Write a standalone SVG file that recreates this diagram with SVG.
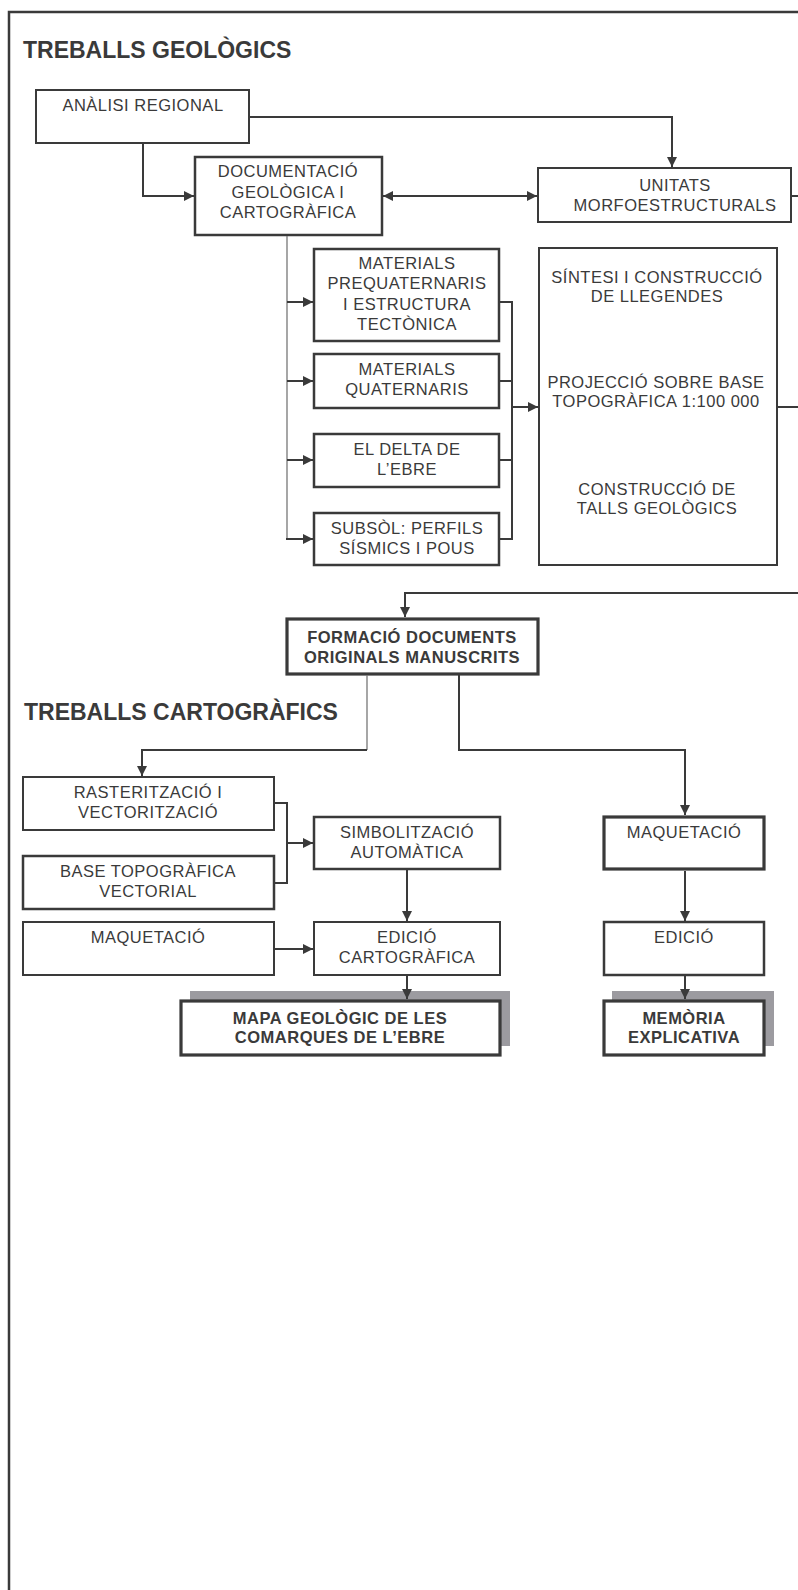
<svg xmlns="http://www.w3.org/2000/svg" width="798" height="1590" viewBox="0 0 798 1590">
<defs>
<marker id="ah" viewBox="0 0 10 10" refX="10" refY="5" markerWidth="11" markerHeight="10" markerUnits="userSpaceOnUse" orient="auto-start-reverse">
<path d="M0,0 L10,5 L0,10 z" fill="#3a3a3a"/>
</marker>
<style>
.box{fill:#fff;stroke:#3a3a3a;stroke-width:2}
.b25{stroke-width:2.5}
.b3{stroke-width:3.2}
.t{font-family:"Liberation Sans",Arial,sans-serif;font-size:16.5px;letter-spacing:0.5px;fill:#3a3a3a;text-anchor:middle}
.tb{font-weight:bold}
.h{font-family:"Liberation Sans",Arial,sans-serif;font-size:23px;font-weight:bold;fill:#3a3a3a}
.c{fill:none;stroke:#3a3a3a;stroke-width:2}
.cg{fill:none;stroke:#777;stroke-width:1.3}
.sh{fill:#9c9ba0}
</style>
</defs>
<rect width="798" height="1590" fill="#fff"/>
<path d="M9,1590 V12 H798" fill="none" stroke="#3a3a3a" stroke-width="2.5"/>
<text class="h" x="23" y="58">TREBALLS GEOLÒGICS</text>
<text class="h" x="24" y="720">TREBALLS CARTOGRÀFICS</text>

<g id="analisi"><rect class="box" x="36" y="90" width="213" height="53"/>
<text class="t" x="143" y="111">ANÀLISI REGIONAL</text></g>

<g id="documentacio"><rect class="box b25" x="195" y="157" width="187" height="78"/>
<text class="t" x="288" y="177">DOCUMENTACIÓ</text>
<text class="t" x="288" y="198">GEOLÒGICA I</text>
<text class="t" x="288" y="218">CARTOGRÀFICA</text></g>

<g id="unitats"><rect class="box" x="538" y="168" width="253" height="54"/>
<text class="t" x="675" y="191">UNITATS</text>
<text class="t" x="675" y="211">MORFOESTRUCTURALS</text></g>

<g id="prequaternaris"><rect class="box b25" x="314" y="249" width="185" height="92"/>
<text class="t" x="407" y="269">MATERIALS</text>
<text class="t" x="407" y="289">PREQUATERNARIS</text>
<text class="t" x="407" y="310">I ESTRUCTURA</text>
<text class="t" x="407" y="330">TECTÒNICA</text></g>

<g id="quaternaris"><rect class="box b25" x="314" y="354" width="185" height="54"/>
<text class="t" x="407" y="375">MATERIALS</text>
<text class="t" x="407" y="395">QUATERNARIS</text></g>

<g id="delta"><rect class="box b25" x="314" y="434" width="185" height="53"/>
<text class="t" x="407" y="455">EL DELTA DE</text>
<text class="t" x="407" y="475">L’EBRE</text></g>

<g id="subsol"><rect class="box b25" x="314" y="513" width="185" height="52"/>
<text class="t" x="407" y="534">SUBSÒL: PERFILS</text>
<text class="t" x="407" y="554">SÍSMICS I POUS</text></g>

<g id="sintesi"><rect class="box" x="539" y="248" width="238" height="317"/>
<text class="t" x="657" y="283">SÍNTESI I CONSTRUCCIÓ</text>
<text class="t" x="657" y="302">DE LLEGENDES</text>
<text class="t" x="656" y="388">PROJECCIÓ SOBRE BASE</text>
<text class="t" x="656" y="407">TOPOGRÀFICA 1:100 000</text>
<text class="t" x="657" y="495">CONSTRUCCIÓ DE</text>
<text class="t" x="657" y="514">TALLS GEOLÒGICS</text></g>

<g id="formacio"><rect class="box b3" x="287" y="619" width="251" height="55"/>
<text class="t tb" x="412" y="643">FORMACIÓ DOCUMENTS</text>
<text class="t tb" x="412" y="663">ORIGINALS MANUSCRITS</text></g>

<g id="rasteritzacio"><rect class="box" x="23" y="777" width="251" height="53"/>
<text class="t" x="148" y="798">RASTERITZACIÓ I</text>
<text class="t" x="148" y="818">VECTORITZACIÓ</text></g>

<g id="basetopo"><rect class="box b25" x="23" y="856" width="251" height="53"/>
<text class="t" x="148" y="877">BASE TOPOGRÀFICA</text>
<text class="t" x="148" y="897">VECTORIAL</text></g>

<g id="maquetacio1"><rect class="box" x="23" y="922" width="251" height="53"/>
<text class="t" x="148" y="943">MAQUETACIÓ</text></g>

<g id="simbolitzacio"><rect class="box b25" x="314" y="817" width="186" height="52"/>
<text class="t" x="407" y="838">SIMBOLITZACIÓ</text>
<text class="t" x="407" y="858">AUTOMÀTICA</text></g>

<g id="edicio1"><rect class="box" x="314" y="922" width="186" height="53"/>
<text class="t" x="407" y="943">EDICIÓ</text>
<text class="t" x="407" y="963">CARTOGRÀFICA</text></g>

<g id="mapa"><rect class="sh" x="190" y="991" width="320" height="55"/>
<rect class="box b3" x="181" y="1001" width="319" height="54"/>
<text class="t tb" x="340" y="1024">MAPA GEOLÒGIC DE LES</text>
<text class="t tb" x="340" y="1043">COMARQUES DE L’EBRE</text></g>

<g id="maquetacio2"><rect class="box b3" x="604" y="817" width="160" height="52"/>
<text class="t" x="684" y="838">MAQUETACIÓ</text></g>

<g id="edicio2"><rect class="box b25" x="604" y="922" width="160" height="53"/>
<text class="t" x="684" y="943">EDICIÓ</text></g>

<g id="memoria"><rect class="sh" x="612" y="991" width="162" height="55"/>
<rect class="box b3" x="604" y="1001" width="160" height="54"/>
<text class="t tb" x="684" y="1024">MEMÒRIA</text>
<text class="t tb" x="684" y="1043">EXPLICATIVA</text></g>

<g id="connectors">
<path class="c" d="M143,143 V196 H194" marker-end="url(#ah)"/>
<path class="c" d="M249,117 H672 V167" marker-end="url(#ah)"/>
<path class="c" d="M383,196 H537" marker-start="url(#ah)" marker-end="url(#ah)"/>
<path class="c" d="M791,196 H798"/>
<path class="cg" d="M287,236 V539"/>
<path class="c" d="M287,302 H313" marker-end="url(#ah)"/>
<path class="c" d="M287,381 H313" marker-end="url(#ah)"/>
<path class="c" d="M287,460 H313" marker-end="url(#ah)"/>
<path class="c" d="M286,539 H313" marker-end="url(#ah)"/>
<path class="c" d="M500,302 H512 V539 H500 M500,381 H512 M500,460 H512"/>
<path class="c" d="M512,407 H538" marker-end="url(#ah)"/>
<path class="c" d="M778,407 H798"/>
<path class="c" d="M798,593 H405 V617" marker-end="url(#ah)"/>
<path class="cg" d="M367,675 V750"/>
<path class="c" d="M367,750 H142 V776" marker-end="url(#ah)"/>
<path class="c" d="M459,675 V750 H685 V815" marker-end="url(#ah)"/>
<path class="c" d="M275,803 H287 V883 H275"/>
<path class="c" d="M287,843 H313" marker-end="url(#ah)"/>
<path class="c" d="M407,870 V921" marker-end="url(#ah)"/>
<path class="c" d="M275,949 H313" marker-end="url(#ah)"/>
<path class="c" d="M407,976 V999" marker-end="url(#ah)"/>
<path class="c" d="M685,871 V921" marker-end="url(#ah)"/>
<path class="c" d="M685,976 V999" marker-end="url(#ah)"/>
</g>
</svg>
